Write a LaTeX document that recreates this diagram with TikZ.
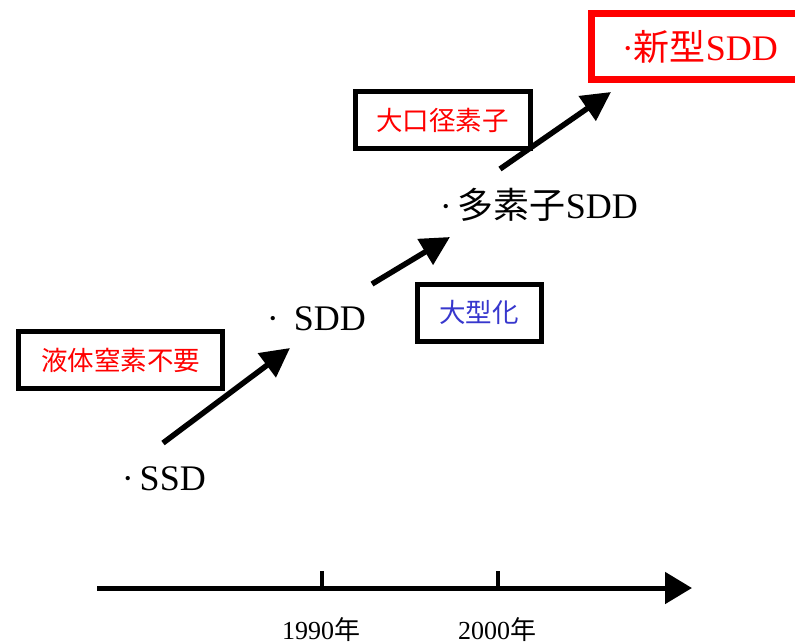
\documentclass[tikz,border=0pt]{standalone}
\usepackage{fontspec}
\setmainfont{Liberation Serif}
\newfontfamily\cjk{Noto Sans CJK JP}
\usetikzlibrary{arrows.meta}
\definecolor{tagred}{RGB}{255,0,0}
\definecolor{tagblue}{RGB}{55,55,205}
\tikzset{
  lbl/.style={inner sep=0pt, font=\fontsize{36}{40}\selectfont},
  tagbox/.style={draw=black, line width=5pt, inner sep=0pt, minimum height=57pt, font=\cjk\fontsize{26.5}{30}\selectfont},
  arr/.style={line width=5.5pt, -{Triangle[length=29pt,width=29pt]}},
  axisline/.style={line width=5pt, -{Triangle[length=27pt,width=31pt]}},
  tick/.style={line width=4pt}
}
\begin{document}
\begin{tikzpicture}[x=1pt,y=-1pt]
\useasboundingbox (0,0) rectangle (795,641);
\clip (0,0) rectangle (795,641);

% boxes
\node[tagbox, draw=tagred, line width=6.5pt, minimum width=214pt, minimum height=66pt] (newbox) at (698.5,46.5) {};
\node[lbl, text=tagred, anchor=base east] (newsdd) at (778,60) {·{\cjk 新型}SDD};

\node[tagbox, minimum width=175pt, text=tagred] (big) at (442.5,120) {大口径素子};
\node[tagbox, minimum width=124pt, text=tagblue] (large) at (479,312.5) {大型化};
\node[tagbox, minimum width=204pt, text=tagred] (ln2) at (120.5,360) {液体窒素不要};

% labels
\node[lbl, anchor=base east] (multi) at (638,218) {·\,{\cjk 多素子}SDD};
\node[lbl, anchor=base east] (sdd) at (366,330) {·\ \,SDD};
\node[lbl, anchor=base east] (ssd) at (206,490) {·\,SSD};

% arrows
\coordinate (a1s) at (163,443);
\coordinate (a1e) at (290,348);
\coordinate (a2s) at (372,284);
\coordinate (a2e) at (450,237);
\coordinate (a3s) at (500,169);
\coordinate (a3e) at (611,92);
\draw[arr] (a1s) -- (a1e);
\draw[arr] (a2s) -- (a2e);
\draw[arr] (a3s) -- (a3e);

% time axis
\coordinate (ax0) at (97,588);
\coordinate (ax1) at (692,588);
\draw[axisline] (ax0) -- (ax1);
\coordinate (t1a) at (322,571);
\coordinate (t1b) at (322,588);
\coordinate (t2a) at (498,571);
\coordinate (t2b) at (498,588);
\draw[tick] (t1a) -- (t1b);
\draw[tick] (t2a) -- (t2b);
\node[inner sep=0pt, anchor=base, font=\fontsize{26}{30}\selectfont] (y1990) at (321,639) {1990{\cjk 年}};
\node[inner sep=0pt, anchor=base, font=\fontsize{26}{30}\selectfont] (y2000) at (497,639) {2000{\cjk 年}};
\end{tikzpicture}
\end{document}
